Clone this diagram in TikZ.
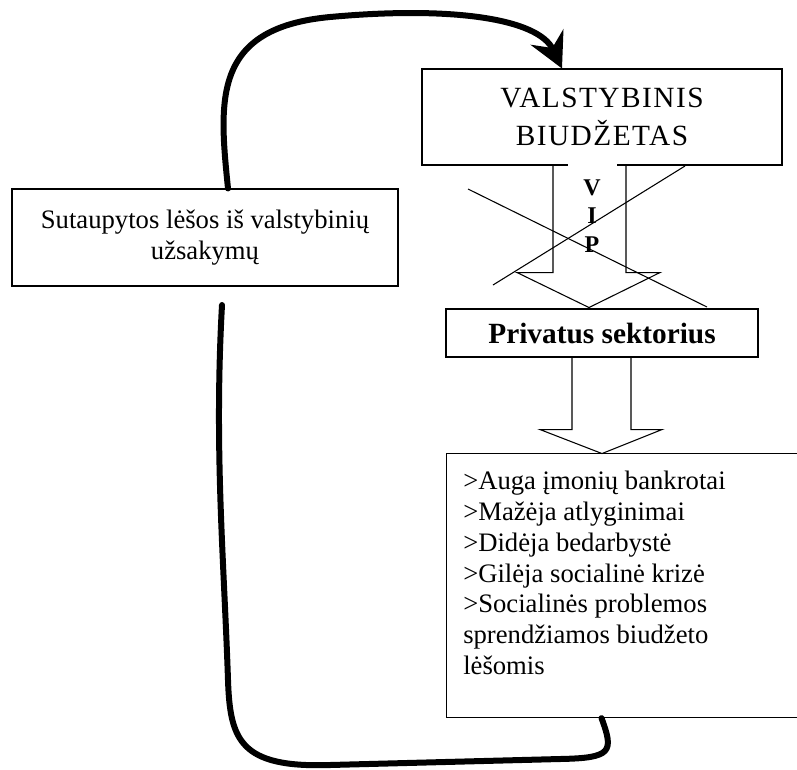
\documentclass[tikz,border=0pt]{standalone}
\usepackage{fontspec}
\setmainfont{Liberation Serif}
\usetikzlibrary{arrows.meta,calc}
\tikzset{
  box/.style={draw, line width=0.8pt, inner sep=0pt, align=center},
  hollow/.style={line width=0.8pt},
  cross/.style={line width=0.8pt},
  loopline/.style={line width=4.5pt, line cap=round},
}
\begin{document}
\begin{tikzpicture}[x=0.75pt, y=-0.75pt, >={Stealth[length=26pt, width=27pt, inset=9pt]}]
\useasboundingbox (0,0) rectangle (797,769);
% boxes
\node[box, minimum width=270pt, minimum height=72pt,
  font=\fontsize{22pt}{28.5pt}\selectfont\addfontfeatures{LetterSpace=5}] (vb) at (602,117) {VALSTYBINIS\\BIUDŽETAS};
\node[box, minimum width=289.5pt, minimum height=72.75pt,
  font=\fontsize{20pt}{23.25pt}\selectfont] (left) at (205,237.5) {Sutaupytos lėšos iš valstybinių\\užsakymų};
\node[box, minimum width=234pt, minimum height=36pt,
  font=\fontsize{22pt}{25pt}\selectfont\bfseries] (priv) at (602,333) {Privatus sektorius};
\node[box, minimum width=267pt, minimum height=198pt, anchor=north west] (bot) at (446,453) {};
\node[anchor=north west, inner sep=0pt, align=left,
  font=\fontsize{20pt}{23.1pt}\selectfont] (list) at (463,471)
  {>Auga įmonių bankrotai\\>Mažėja atlyginimai\\>Didėja bedarbystė\\>Gilėja socialinė krizė\\>Socialinės problemos\\sprendžiamos biudžeto\\lėšomis};
% block arrows
\draw[hollow] ($(vb.south)+(-49,0)$) -- ++(0,107) -- ++(-36,0) -- ++(72,35) -- ++(71,-35) -- ++(-34,0) -- ++(0,-107);
\node[fill=white, inner sep=0pt, minimum width=36.75pt, minimum height=78.75pt, align=center,
  font=\fontsize{18pt}{21.4pt}\selectfont\bfseries] (vip) at (592,216) {V\\I\\P};
\draw[hollow] ($(priv.south)+(-30,0)$) -- ++(0,72) -- ++(-32,0) -- ++(62,24) -- ++(60,-24) -- ++(-31,0) -- ++(0,-72);
% crossed out
\coordinate (xa) at (468,189);
\coordinate (xb) at (707,307);
\coordinate (xc) at (493,285);
\coordinate (xd) at (685,166);
\draw[cross] (xa) -- (xb);
\draw[cross] (xc) -- (xd);
% thick loop
\coordinate (back) at (222,305);
\draw[loopline, ->] ($(left.north)+(23,0)$) .. controls (219,100) and (212,28) .. (330,17)
  .. controls (450,6) and (538,18) .. ($(vb.north)+(-40,0)$);
\draw[loopline] ($(bot.south)+(-23,0)$) .. controls (614,752) and (612,758) .. (560,759)
  -- (330,765) .. controls (240,768) and (230,740) .. (228,680)
  .. controls (224,560) and (214,450) .. (back);
\end{tikzpicture}
\end{document}
